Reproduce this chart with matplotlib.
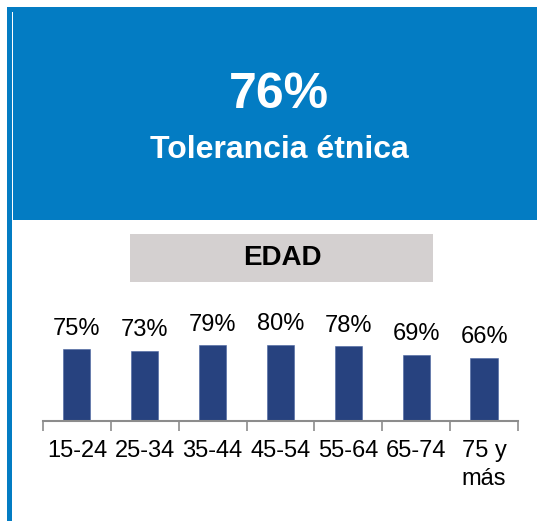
import matplotlib.pyplot as plt
import matplotlib.patches as mpatches
import numpy as np

plt.rcParams['font.family'] = ['Liberation Sans', 'DejaVu Sans']

grupos = ["15-24", "25-34", "35-44", "45-54", "55-64", "65-74", "75 y\nmás"]
valores = [75, 73, 79, 80, 78, 69, 66]
total = "76%"
titulo = "Tolerancia étnica"
subtitulo = "EDAD"

W, H = 537, 521
fig = plt.figure(figsize=(W / 100, H / 100), dpi=100)


def box(x0, y0, x1, y1, color):
    # pixel coords from top-left
    fig.patches.append(mpatches.Rectangle((x0 / W, 1 - y1 / H), (x1 - x0) / W, (y1 - y0) / H,
                                          transform=fig.transFigure, facecolor=color,
                                          edgecolor='none', zorder=0))


azul = '#037CC3'
box(7, 7, W, 220, azul)
box(11.5, 12, 12.8, 220, 'white')
box(7, 220, 11.5, H, azul)
box(130, 234, 433, 282, '#D4D0D0')

fig.text(279 / W, 1 - 95 / H, total, color='white', fontsize=36, fontweight='bold',
         ha='center', va='center')
fig.text(279 / W, 1 - 150 / H, titulo, color='white', fontsize=23, fontweight='bold',
         ha='center', va='center')
fig.text(282 / W, 1 - 258 / H, subtitulo, color='black', fontsize=20, fontweight='bold',
         ha='center', va='center')

ax = fig.add_axes([43 / W, 1 - 421 / H, (518 - 43) / W, (421 - 290) / H])
x = np.arange(len(grupos))
bars = ax.bar(x, valores, width=0.4, color='#27427F', edgecolor='#4A64A0', linewidth=0.4)
ax.bar_label(bars, labels=[f"{v}%" for v in valores], padding=7, fontsize=17)

ax.set_xlim(-0.5, len(grupos) - 0.5)
ax.set_ylim(0, 137)
ax.set_yticks([])
ax.set_xticks(x)
ax.set_xticklabels(grupos, fontsize=17, linespacing=1.3)
ax.tick_params(axis='x', which='major', length=0, pad=14)
ax.set_xticks(np.arange(-0.5, len(grupos)), minor=True)
ax.tick_params(axis='x', which='minor', length=7, width=1.2, color='#8C8C8C')
for s in ['top', 'right', 'left']:
    ax.spines[s].set_visible(False)
ax.spines['bottom'].set_color('#8C8C8C')
ax.spines['bottom'].set_linewidth(1.5)
ax.patch.set_alpha(0)

fig.savefig('out.png', dpi=100)
